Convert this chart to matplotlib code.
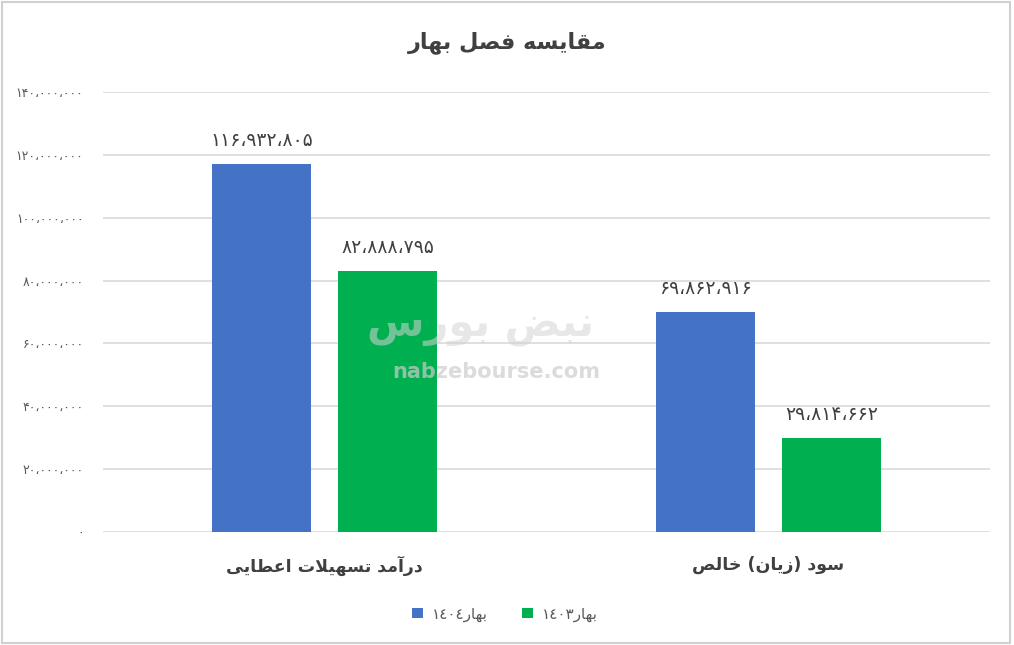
import re
import matplotlib
matplotlib.use('Agg')
import matplotlib.pyplot as plt
from matplotlib.patches import Rectangle

# داده‌ها
title = 'مقایسه فصل بهار'
categories = ['درآمد تسهیلات اعطایی', 'سود (زیان) خالص']
series_names = ['بهار١٤٠٤', 'بهار١٤٠٣']
values_1404 = [116932805, 69862916]
values_1403 = [82888795, 29814662]
yticks = [0, 20000000, 40000000, 60000000, 80000000, 100000000, 120000000, 140000000]
colors = ['#4472C4', '#00B050']

# شکل‌دهی حروف عربی/فارسی (matplotlib خودش این کار را نمی‌کند)
FORMS = {
    'ا': ('\uFE8D', '\uFE8E'), 'آ': ('\uFE81', '\uFE82'),
    'د': ('\uFEA9', '\uFEAA'), 'ر': ('\uFEAD', '\uFEAE'),
    'ز': ('\uFEAF', '\uFEB0'), 'و': ('\uFEED', '\uFEEE'),
    'ب': ('\uFE8F', '\uFE90', '\uFE91', '\uFE92'),
    'ت': ('\uFE95', '\uFE96', '\uFE97', '\uFE98'),
    'خ': ('\uFEA5', '\uFEA6', '\uFEA7', '\uFEA8'),
    'س': ('\uFEB1', '\uFEB2', '\uFEB3', '\uFEB4'),
    'ص': ('\uFEB9', '\uFEBA', '\uFEBB', '\uFEBC'),
    'ض': ('\uFEBD', '\uFEBE', '\uFEBF', '\uFEC0'),
    'ط': ('\uFEC1', '\uFEC2', '\uFEC3', '\uFEC4'),
    'ع': ('\uFEC9', '\uFECA', '\uFECB', '\uFECC'),
    'ف': ('\uFED1', '\uFED2', '\uFED3', '\uFED4'),
    'ق': ('\uFED5', '\uFED6', '\uFED7', '\uFED8'),
    'ل': ('\uFEDD', '\uFEDE', '\uFEDF', '\uFEE0'),
    'م': ('\uFEE1', '\uFEE2', '\uFEE3', '\uFEE4'),
    'ن': ('\uFEE5', '\uFEE6', '\uFEE7', '\uFEE8'),
    'ه': ('\uFEE9', '\uFEEA', '\uFEEB', '\uFEEC'),
    'ی': ('\uFEEF', '\uFEF0', '\uFEF3', '\uFEF4'),
    'لا': ('\uFEFB', '\uFEFC'), 'لآ': ('\uFEF5', '\uFEF6'),
}
DIGITS = '0-9\u0660-\u0669\u06F0-\u06F9'


def shape(s):
    toks = []
    i = 0
    while i < len(s):
        if s[i] == 'ل' and i + 1 < len(s) and s[i + 1] in 'اآ':
            toks.append(s[i:i + 2])
            i += 2
        else:
            toks.append(s[i])
            i += 1
    out = []
    for k, t in enumerate(toks):
        if t not in FORMS:
            out.append(t)
            continue
        f = FORMS[t]
        prev = toks[k - 1] if k > 0 else None
        nxt = toks[k + 1] if k + 1 < len(toks) else None
        jp = prev in FORMS and len(FORMS[prev]) == 4
        jn = len(f) == 4 and nxt in FORMS
        if jp and jn:
            out.append(f[3])
        elif jn:
            out.append(f[2])
        elif jp:
            out.append(f[1])
        else:
            out.append(f[0])
    return ''.join(out)


def rtl(s):
    runs = re.findall('[' + DIGITS + '\u060C]+|.', shape(s))
    mirror = {'(': ')', ')': '('}
    return ''.join(mirror.get(r, r) for r in reversed(runs))


def fa_num(v):
    txt = f'{v:,}'.replace(',', '\u060C')
    return txt.translate(str.maketrans('0123456789', '۰۱۲۳۴۵۶۷۸۹'))


fig = plt.figure(figsize=(10.14, 6.45), dpi=100)
ax = fig.add_axes([0.1016, 0.1752, 0.8748, 0.6822])

x = [0, 1]
w = 0.223
off = 0.142
b1 = ax.bar([p - off for p in x], values_1404, w, color=colors[0], label=rtl(series_names[0]), zorder=2)
b2 = ax.bar([p + off for p in x], values_1403, w, color=colors[1], label=rtl(series_names[1]), zorder=2)

for bars, vals in ((b1, values_1404), (b2, values_1403)):
    for r, v in zip(bars, vals):
        ax.text(r.get_x() + r.get_width() / 2, v + 4500000, fa_num(v),
                ha='center', va='bottom', fontsize=13.5, color='#404040', zorder=4)

ax.set_xlim(-0.5, 1.5)
ax.set_ylim(0, 140000000)
ax.set_yticks(yticks)
ax.set_yticklabels([fa_num(v) for v in yticks], fontsize=9, color='#595959')
ax.set_xticks(x)
ax.set_xticklabels([rtl(c) for c in categories], fontsize=12.5, fontweight='bold', color='#404040')
ax.tick_params(axis='both', length=0)
ax.tick_params(axis='y', pad=14)
ax.tick_params(axis='x', pad=17)
ax.grid(axis='y', color='#d9d9d9', linewidth=1.2, zorder=0)
for sp in ax.spines.values():
    sp.set_visible(False)

# واترمارک
ax.text(0.425, 0.47, rtl('نبض بورس'), transform=ax.transAxes, ha='center', va='center',
        fontsize=30, fontweight='bold', color='#d4d4d4', alpha=0.55, zorder=3)
ax.text(0.443, 0.363, 'nabzebourse.com', transform=ax.transAxes, ha='center', va='center',
        fontsize=15, fontweight='bold', color='#cccccc', alpha=0.7, zorder=3)

fig.text(0.5, 1 - 43 / 645, rtl(title), ha='center', va='center',
         fontsize=16, fontweight='bold', color='#404040')

fig.legend(loc='center', bbox_to_anchor=(505 / 1014, 1 - 614 / 645), ncol=2, frameon=False,
           fontsize=11, labelcolor='#595959', handlelength=0.7, handleheight=0.7,
           columnspacing=2.2, handletextpad=0.6)

fig.patches.append(Rectangle((0.002, 0.003), 0.994, 0.994, transform=fig.transFigure,
                             fill=False, edgecolor='#d0d0d0', linewidth=1.5))

fig.savefig('out.png', dpi=100, facecolor='white')
